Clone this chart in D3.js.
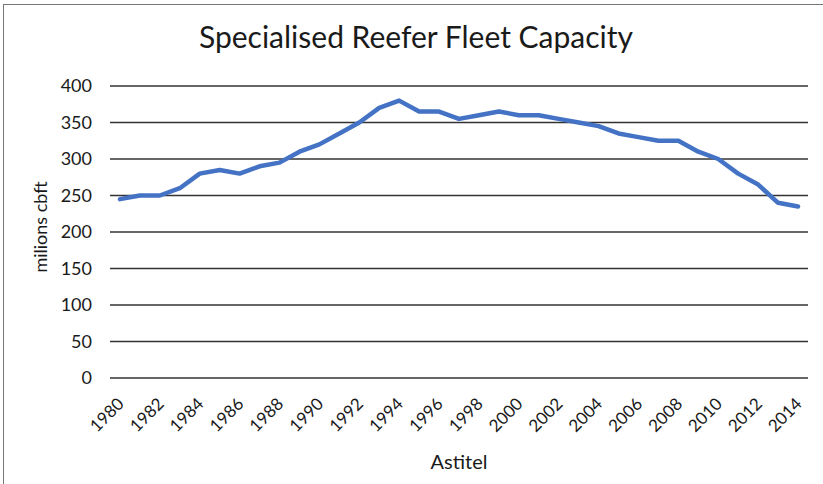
<!DOCTYPE html>
<html><head><meta charset="utf-8">
<script src="https://cdn.jsdelivr.net/npm/d3@7"></script>
<style>body{margin:0;background:#fff}svg{display:block}text{font-family:Lato,"Open Sans",sans-serif;fill:#1a1a1a}</style>
</head><body>
<script>
const years = d3.range(1980, 2015);
const values = [245,250,250,260,280,285,280,290,295,310,320,335,350,370,380,365,365,355,360,365,360,360,355,350,345,335,330,325,325,310,300,280,265,240,235];
const yTicks = [0,50,100,150,200,250,300,350,400];
const title = "Specialised Reefer Fleet Capacity";
const xTitle = "Astitel";
const yTitle = "milions cbft";

const W = 823, H = 484;
const FONT = "Lato,'Open Sans',sans-serif";
const svg = d3.select("body").append("svg").attr("width", W).attr("height", H);
svg.append("rect").attr("x",3.5).attr("y",4.5).attr("width",W).attr("height",H).attr("fill","none").attr("stroke","#777").attr("stroke-width",1);

const x = d3.scaleBand().domain(years).range([110, 808]);
const y = d3.scaleLinear().domain([0,400]).range([378, 86]);

const grid = svg.append("g");
grid.selectAll("line").data(yTicks).join("line")
  .attr("x1",110).attr("x2",808).attr("y1",d=>y(d)).attr("y2",d=>y(d))
  .attr("stroke","#333").attr("stroke-width",1.6);

const yAxis = d3.axisLeft(y).tickValues(yTicks).tickSize(0).tickPadding(0);
const gy = svg.append("g").attr("transform","translate(92,0)").call(yAxis);
gy.select(".domain").remove();
gy.selectAll("text").attr("font-size",18).attr("fill","#1a1a1a").style("font-family",FONT);

const xAxis = d3.axisBottom(x).tickValues(years.filter(d=>d%2===0)).tickSize(0);
const gx = svg.append("g").attr("transform","translate(0,378)").call(xAxis);
gx.select(".domain").remove();
gx.selectAll("text").attr("font-size",17).attr("fill","#1a1a1a").style("font-family",FONT)
  .attr("text-anchor","end").attr("dy",0).attr("y",0)
  .attr("transform","translate(5,27) rotate(-45)");

const line = d3.line().x((d,i)=>x(years[i]) + x.bandwidth()/2).y(d=>y(d));
svg.append("path").datum(values).attr("d",line).attr("fill","none")
  .attr("stroke","#4472C4").attr("stroke-width",4.5).attr("stroke-linejoin","round").attr("stroke-linecap","round");

svg.append("text").attr("x",416).attr("y",48).attr("text-anchor","middle").attr("font-size",30).text(title);
svg.append("text").attr("x",459).attr("y",469).attr("text-anchor","middle").attr("font-size",20).text(xTitle);
svg.append("text").attr("transform","translate(47,227) rotate(-90)").attr("text-anchor","middle").attr("font-size",18).text(yTitle);
</script>
</body></html>
